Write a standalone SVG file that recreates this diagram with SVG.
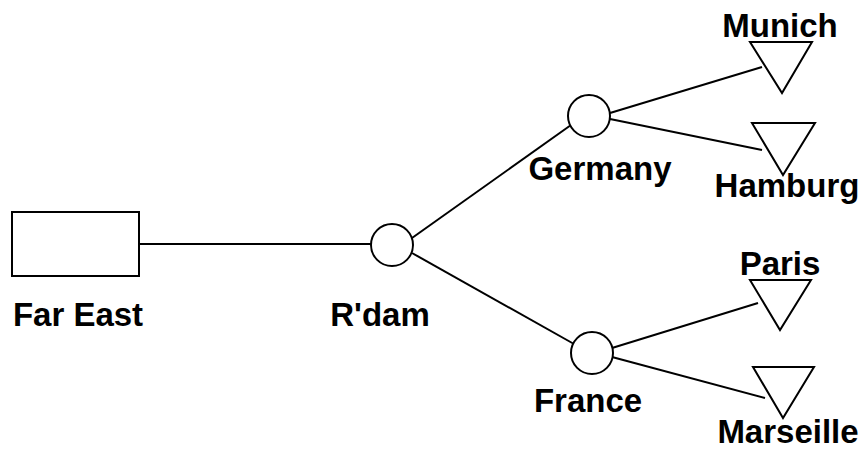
<svg xmlns="http://www.w3.org/2000/svg" width="867" height="451" viewBox="0 0 867 451">
<style>
.s{fill:#fff;stroke:#000;stroke-width:2}
.c line{stroke:#000;stroke-width:2}
text{font-family:"Liberation Sans",Arial,sans-serif;font-weight:bold;font-size:33px;fill:#000;text-anchor:middle}
</style>
<rect width="867" height="451" fill="#fff"/>
<g class="c" id="connectors">
<line x1="140" y1="244" x2="371" y2="244"/>
<line x1="412" y1="238" x2="571" y2="125"/>
<line x1="412" y1="253" x2="574" y2="344"/>
<line x1="610" y1="113" x2="762" y2="67"/>
<line x1="610" y1="119" x2="762" y2="150"/>
<line x1="612" y1="348" x2="758" y2="303"/>
<line x1="612" y1="357" x2="765" y2="398"/>
</g>
<g id="fareast"><rect class="s" x="12" y="212" width="127" height="64"/><text x="78" y="326">Far East</text></g>
<g id="rdam"><circle class="s" cx="392" cy="245" r="21"/><text x="380" y="326">R'dam</text></g>
<g id="germany"><circle class="s" cx="589" cy="116" r="21"/><text x="600" y="180">Germany</text></g>
<g id="france"><circle class="s" cx="592" cy="353" r="21"/><text x="588" y="412">France</text></g>
<g id="munich"><polygon class="s" points="750,42 812,42 782,93"/><text x="780" y="37">Munich</text></g>
<g id="hamburg"><polygon class="s" points="752,123 815,123 783,175"/><text x="787" y="197">Hamburg</text></g>
<g id="paris"><polygon class="s" points="750,280 811,280 780,330"/><text x="780" y="275">Paris</text></g>
<g id="marseille"><polygon class="s" points="753,367 814,367 783,418"/><text x="788" y="443">Marseille</text></g>
</svg>
